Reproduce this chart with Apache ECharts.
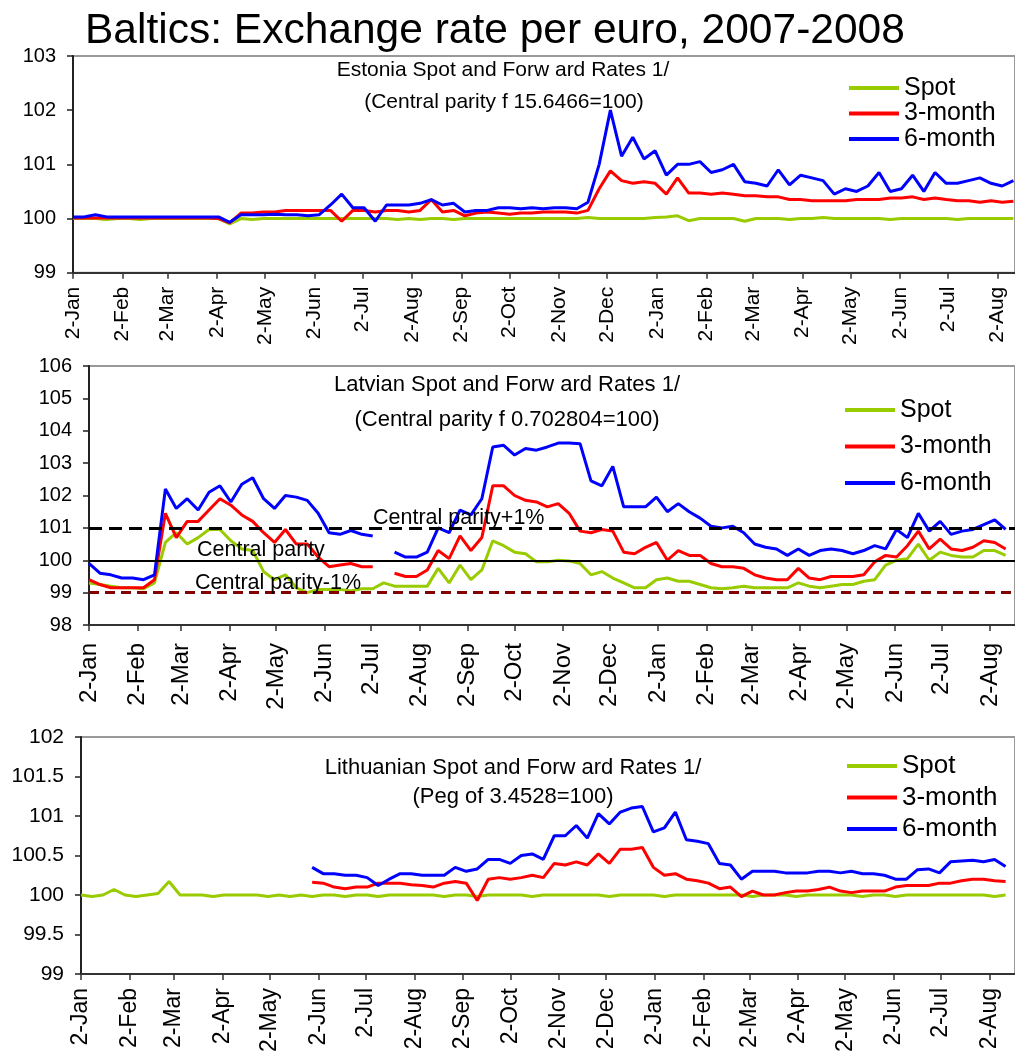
<!DOCTYPE html>
<html>
<head>
<meta charset="utf-8">
<script src="https://cdn.jsdelivr.net/npm/echarts@6/dist/echarts.min.js"></script>
<style>html,body{margin:0;padding:0;background:#fff}#chart{width:1015px;height:1055px}</style>
</head>
<body>
<div id="chart"></div>
<script>
// weekly readings, week k = 2 Jan 2007 + 7k days
const SERIES_NAMES = ['Spot', '3-month', '6-month']
const MONTHS = ['Jan', 'Feb', 'Mar', 'Apr', 'May', 'Jun', 'Jul', 'Aug', 'Sep', 'Oct', 'Nov', 'Dec']

// Estonia
const estSpot = [
	100.0, 100.0, 100.0, 99.98, 100.0, 100.0, 99.98, 100.0, 100.0, 100.0,
	100.0, 100.0, 100.0, 100.0, 99.9, 100.0, 99.98, 100.0, 100.0, 100.0,
	100.0, 100.0, 100.0, 100.0, 100.0, 100.0, 100.0, 100.0, 100.0, 99.98,
	100.0, 99.98, 100.0, 100.0, 99.98, 100.0, 100.0, 100.0, 100.0, 100.0,
	100.0, 100.0, 100.0, 100.0, 100.0, 100.0, 100.02, 100.0, 100.0, 100.0,
	100.0, 100.0, 100.02, 100.03, 100.05, 99.96, 100.0, 100.0, 100.0, 100.0,
	99.95, 100.0, 100.0, 100.0, 99.98, 100.0, 100.0, 100.02, 100.0, 100.0,
	100.0, 100.0, 100.0, 99.98, 100.0, 100.0, 100.0, 100.0, 100.0, 99.98,
	100.0, 100.0, 100.0, 100.0, 100.0
]
const est3m = [
	100.01, 100.01, 100.01, 100.01, 100.01, 100.01, 100.01, 100.01, 100.01, 100.01,
	100.01, 100.01, 100.01, 100.0, 99.92, 100.1, 100.1, 100.12, 100.12, 100.15,
	100.15, 100.15, 100.15, 100.15, 99.95, 100.15, 100.15, 100.12, 100.15, 100.15,
	100.12, 100.15, 100.35, 100.12, 100.15, 100.05, 100.1, 100.12, 100.1, 100.08,
	100.1, 100.1, 100.12, 100.12, 100.12, 100.1, 100.15, 100.55, 100.88, 100.7,
	100.65, 100.68, 100.65, 100.45, 100.75, 100.47, 100.47, 100.45, 100.47, 100.45,
	100.42, 100.42, 100.4, 100.4, 100.35, 100.35, 100.33, 100.33, 100.33, 100.33,
	100.35, 100.35, 100.35, 100.38, 100.38, 100.4, 100.35, 100.38, 100.35, 100.33,
	100.33, 100.3, 100.33, 100.3, 100.32
]
const est6m = [
	100.03, 100.03, 100.07, 100.03, 100.03, 100.03, 100.03, 100.03, 100.03, 100.03,
	100.03, 100.03, 100.03, 100.03, 99.93, 100.07, 100.07, 100.07, 100.08, 100.07,
	100.07, 100.05, 100.07, 100.25, 100.45, 100.2, 100.2, 99.95, 100.25, 100.25,
	100.25, 100.28, 100.35, 100.25, 100.28, 100.12, 100.15, 100.15, 100.2, 100.2,
	100.18, 100.2, 100.18, 100.2, 100.2, 100.18, 100.3, 101.0, 102.0, 101.15,
	101.5, 101.1, 101.25, 100.8, 101.0, 101.0, 101.05, 100.85, 100.9, 101.0,
	100.68, 100.65, 100.6, 100.9, 100.62, 100.8, 100.75, 100.7, 100.45, 100.55,
	100.5, 100.6, 100.85, 100.5, 100.55, 100.8, 100.5, 100.85, 100.65, 100.65,
	100.7, 100.75, 100.65, 100.6, 100.7
]

// Latvia
const latSpot = [
	99.3, 99.25, 99.2, 99.15, 99.15, 99.12, 99.3, 100.55, 100.85, 100.5,
	100.7, 100.95, 100.95, 100.6, 100.35, 100.3, 99.65, 99.4, 99.55, 99.15,
	99.0, 99.1, 99.1, 99.1, 99.05, 99.12, 99.12, 99.3, 99.2, 99.2,
	99.2, 99.2, 99.75, 99.3, 99.85, 99.4, 99.7, 100.6, 100.45, 100.25,
	100.2, 99.95, 99.95, 100.0, 99.98, 99.9, 99.55, 99.65, 99.45, 99.3,
	99.15, 99.15, 99.4, 99.45, 99.35, 99.35, 99.25, 99.15, 99.12, 99.15,
	99.2, 99.15, 99.15, 99.15, 99.15, 99.3, 99.2, 99.15, 99.2, 99.25,
	99.25, 99.35, 99.4, 99.85, 100.0, 100.05, 100.5, 100.0, 100.25, 100.15,
	100.1, 100.1, 100.3, 100.3, 100.15
]
const lat3m = [
	99.4, 99.25, 99.15, 99.15, 99.15, 99.15, 99.4, 101.45, 100.7, 101.2,
	101.2, 101.55, 101.9, 101.7, 101.4, 101.2, 100.85, 100.55, 100.95, 100.5,
	100.5, 100.1, 99.8, 99.85, 99.9, 99.8, 99.8, null, 99.6, 99.5,
	99.5, 99.7, 100.3, 100.05, 100.75, 100.3, 100.7, 102.3, 102.3, 102.0,
	101.85, 101.8, 101.65, 101.75, 101.45, 100.9, 100.85, 100.95, 100.9, 100.25,
	100.2, 100.4, 100.55, 100.0, 100.3, 100.15, 100.15, 99.9, 99.8, 99.8,
	99.75, 99.55, 99.45, 99.4, 99.4, 99.75, 99.45, 99.4, 99.5, 99.5,
	99.5, 99.55, 99.95, 100.15, 100.1, 100.45, 100.9, 100.35, 100.65, 100.35,
	100.3, 100.4, 100.6, 100.55, 100.35
]
const lat6m = [
	99.9, 99.6, 99.55, 99.45, 99.45, 99.4, 99.55, 102.2, 101.6, 101.9,
	101.55, 102.1, 102.3, 101.8, 102.35, 102.55, 101.9, 101.6, 102.0, 101.95,
	101.85, 101.45, 100.85, 100.8, 100.92, 100.8, 100.75, null, 100.25, 100.1,
	100.1, 100.25, 101.0, 100.85, 101.55, 101.4, 101.9, 103.5, 103.55, 103.25,
	103.45, 103.4, 103.5, 103.62, 103.62, 103.6, 102.45, 102.3, 102.9, 101.65,
	101.65, 101.65, 101.95, 101.5, 101.75, 101.5, 101.3, 101.05, 101.0, 101.05,
	100.85, 100.5, 100.4, 100.35, 100.15, 100.35, 100.15, 100.3, 100.35, 100.3,
	100.2, 100.3, 100.45, 100.35, 100.95, 100.7, 101.45, 100.9, 101.2, 100.8,
	100.9, 100.95, 101.1, 101.25, 100.95
]
const latBands = [101, 100, 99]
const latBandLabels = ['Central parity+1%', 'Central parity', 'Central parity-1%']

// Lithuania
const litSpot = [
	100.0, 99.98, 100.0, 100.07, 100.0, 99.98, 100.0, 100.02, 100.17, 100.0,
	100.0, 100.0, 99.98, 100.0, 100.0, 100.0, 100.0, 99.98, 100.0, 99.98,
	100.0, 99.98, 100.0, 100.0, 99.98, 100.0, 100.0, 99.98, 100.0, 100.0,
	100.0, 100.0, 100.0, 99.98, 100.0, 100.0, 99.98, 100.0, 100.0, 100.0,
	100.0, 99.98, 100.0, 100.0, 100.0, 100.0, 100.0, 100.0, 99.98, 100.0,
	100.0, 100.0, 100.0, 99.98, 100.0, 100.0, 100.0, 100.0, 100.0, 100.0,
	100.0, 99.98, 100.0, 100.0, 100.0, 99.98, 100.0, 100.0, 100.0, 100.0,
	100.0, 99.98, 100.0, 100.0, 99.98, 100.0, 100.0, 100.0, 100.0, 100.0,
	100.0, 100.0, 100.0, 99.98, 100.0
]
const lit3m = [
	null, null, null, null, null, null, null, null, null, null,
	null, null, null, null, null, null, null, null, null, null,
	null, 100.16, 100.15, 100.1, 100.08, 100.1, 100.1, 100.15, 100.15, 100.15,
	100.13, 100.12, 100.1, 100.15, 100.17, 100.15, 99.93, 100.2, 100.22, 100.2,
	100.22, 100.25, 100.22, 100.4, 100.38, 100.42, 100.38, 100.52, 100.4, 100.58,
	100.58, 100.6, 100.35, 100.25, 100.27, 100.2, 100.18, 100.15, 100.08, 100.1,
	99.98, 100.05, 100.0, 100.0, 100.03, 100.05, 100.05, 100.07, 100.1, 100.05,
	100.03, 100.05, 100.05, 100.05, 100.1, 100.12, 100.12, 100.12, 100.15, 100.15,
	100.18, 100.2, 100.2, 100.18, 100.17
]
const lit6m = [
	null, null, null, null, null, null, null, null, null, null,
	null, null, null, null, null, null, null, null, null, null,
	null, 100.35, 100.27, 100.27, 100.25, 100.25, 100.22, 100.12, 100.2, 100.27,
	100.27, 100.25, 100.25, 100.25, 100.35, 100.3, 100.33, 100.45, 100.45, 100.4,
	100.5, 100.52, 100.45, 100.75, 100.75, 100.88, 100.72, 101.03, 100.9, 101.05,
	101.1, 101.12, 100.8, 100.85, 101.05, 100.7, 100.68, 100.65, 100.4, 100.38,
	100.2, 100.3, 100.3, 100.3, 100.28, 100.28, 100.28, 100.3, 100.3, 100.28,
	100.3, 100.27, 100.27, 100.25, 100.2, 100.2, 100.32, 100.33, 100.28, 100.42,
	100.43, 100.44, 100.42, 100.45, 100.36
]

const FONT = 'Liberation Sans, Arial, sans-serif'
const COLORS = ['#99cc00', '#ff0000', '#0000ff']

// daily categories from 2 Jan 2007
function makeDays(n) {
	const out = []
	const t0 = Date.UTC(2007, 0, 2)
	for (let i = 0; i < n; i++) {
		out.push(new Date(t0 + i * 86400000).toISOString().slice(0, 10))
	}
	return out
}
const isSecond = (idx, v) => v.slice(8) === '02'
const dayLabel = v => (+v.slice(8)) + '-' + MONTHS[+v.slice(5, 7) - 1]

const panels = [
	{ grid: { left: 73, top: 56, height: 216.7, right: -1 }, days: 590, yMin: 99, yMax: 103, step: 1,
		vals: [estSpot, est3m, est6m], yFont: 20, xFont: 21, xMargin: 14 },
	{ grid: { left: 89, top: 366, height: 259, right: -1 }, days: 595, yMin: 98, yMax: 106, step: 1,
		vals: [latSpot, lat3m, lat6m], yFont: 20, xFont: 24, xMargin: 18 },
	{ grid: { left: 81, top: 737, height: 237, right: -1 }, days: 595, yMin: 99, yMax: 102, step: 0.5,
		vals: [litSpot, lit3m, lit6m], yFont: 21, xFont: 23, xMargin: 14 }
]

const series = []
panels.forEach((p, gi) => {
	p.vals.forEach((arr, si) => {
		series.push({
			type: 'line',
			name: SERIES_NAMES[si],
			xAxisIndex: gi,
			yAxisIndex: gi,
			data: arr.map((v, k) => [7 * k, v]),
			symbol: 'none',
			lineStyle: { color: COLORS[si], width: 3 },
			itemStyle: { color: COLORS[si] },
			connectNulls: false
		})
	})
})

// central parity band lines on the Latvian panel
const bandStyles = [
	{ color: '#000', type: [13, 7], width: 3 },
	{ color: '#000', type: 'solid', width: 2 },
	{ color: '#800000', type: [10, 6], width: 3 }
]
const bandDx = [284, 108, 106]
series[3].markLine = {
	silent: true,
	symbol: ['none', 'none'],
	label: { show: true, position: 'insideStartTop', color: '#000', fontSize: 21.5, fontFamily: FONT },
	data: latBands.map((y, i) => ({
		yAxis: y,
		lineStyle: bandStyles[i],
		label: { formatter: latBandLabels[i], distance: [bandDx[i], -1] }
	}))
}

const legendPos = [
	{ left: 844, top: 70.5, itemGap: 0.5, fontSize: 25 },
	{ left: 840, top: 392.5, itemGap: 11.5, fontSize: 25 },
	{ left: 842, top: 748, itemGap: 5.5, fontSize: 26 }
]

const subtitles = [
	['Estonia Spot and Forw ard Rates 1/', 503, 70, 21],
	['(Central parity f 15.6466=100)', 504, 102, 21],
	['Latvian Spot and Forw ard Rates 1/', 507, 385, 22],
	['(Central parity f 0.702804=100)', 507, 420, 22],
	['Lithuanian Spot and Forw ard Rates 1/', 513, 768, 22],
	['(Peg of 3.4528=100)', 513, 797, 22]
]

echarts.init(document.getElementById('chart')).setOption({
	animation: false,
	backgroundColor: '#fff',
	title: {
		text: 'Baltics: Exchange rate per euro, 2007-2008',
		left: 80,
		top: 5,
		textStyle: { fontSize: 42.5, fontWeight: 'normal', color: '#000', fontFamily: FONT }
	},
	graphic: subtitles.map(s => ({
		type: 'text',
		x: s[1],
		y: s[2],
		style: { text: s[0], fill: '#000', font: s[3] + 'px ' + FONT, textAlign: 'center', textVerticalAlign: 'middle' }
	})),
	legend: legendPos.map(l => ({
		data: SERIES_NAMES,
		orient: 'vertical',
		left: l.left,
		top: l.top,
		icon: 'rect',
		itemWidth: 50,
		itemHeight: 4,
		itemGap: l.itemGap,
		selectedMode: false,
		textStyle: { fontSize: l.fontSize, color: '#000', fontFamily: FONT }
	})),
	grid: panels.map(p => Object.assign({ show: true, borderColor: '#999', borderWidth: 2 }, p.grid)),
	xAxis: panels.map((p, gi) => ({
		type: 'category',
		gridIndex: gi,
		data: makeDays(p.days),
		boundaryGap: false,
		axisLine: { lineStyle: { color: '#333', width: 2 } },
		axisTick: { interval: isSecond, length: 6, lineStyle: { color: '#333', width: 1.5 } },
		axisLabel: { interval: isSecond, rotate: 90, formatter: dayLabel, fontSize: p.xFont, margin: p.xMargin, color: '#000', fontFamily: FONT },
		splitLine: { show: false }
	})),
	yAxis: panels.map((p, gi) => ({
		type: 'value',
		gridIndex: gi,
		min: p.yMin,
		max: p.yMax,
		interval: p.step,
		axisLine: { show: true, lineStyle: { color: '#222', width: 2 } },
		axisTick: { show: true, length: 6, lineStyle: { color: '#222', width: 1.5 } },
		axisLabel: { fontSize: p.yFont, margin: 17, color: '#000', fontFamily: FONT },
		splitLine: { show: false }
	})),
	series: series
})
</script>
</body>
</html>
